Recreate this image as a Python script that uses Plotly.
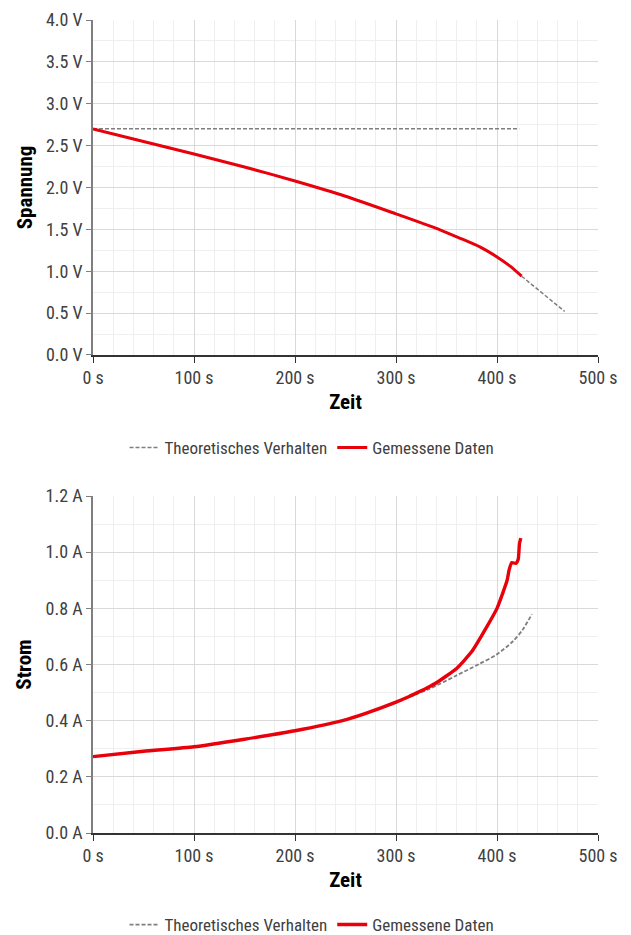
import plotly.graph_objects as go

# ---- data ----
t_volt_meas = [0, 50, 100, 150, 200, 250, 300, 325, 343.6, 363, 383, 400, 413, 424.4]
v_meas = [2.70, 2.55, 2.40, 2.245, 2.077, 1.895, 1.685, 1.578, 1.495, 1.396, 1.29, 1.17, 1.06, 0.94]
t_volt_theo = [0, 422, None, 424.4, 467]
v_theo = [2.70, 2.70, None, 0.94, 0.52]

t_curr_meas = [0, 50, 100, 150, 200, 247, 270, 300, 313, 320, 333, 340, 360, 375, 390, 400, 410, 412, 414.7, 418.6, 421, 422.3, 423.6]
i_meas = [0.272, 0.291, 0.307, 0.334, 0.364, 0.40, 0.426, 0.466, 0.486, 0.498, 0.521, 0.535, 0.586, 0.646, 0.735, 0.80, 0.90, 0.937, 0.963, 0.96, 0.975, 1.032, 1.05]
t_curr_theo = [0, 50, 100, 150, 200, 247, 270, 300, 306.6, 320, 333, 359.4, 382.4, 398.9, 415.3, 425.2, 434.5]
i_theo = [0.272, 0.291, 0.307, 0.334, 0.364, 0.40, 0.426, 0.464, 0.474, 0.494, 0.513, 0.56, 0.602, 0.634, 0.681, 0.723, 0.779]

names = ["Theoretisches Verhalten", "Gemessene Daten"]

FONT = "Liberation Sans Narrow, Roboto Condensed, Arial Narrow, Roboto, sans-serif"
GRAY = "#7f7f7f"
RED = "#e8000b"
TICKSIZE = 18
TITLESIZE = 21
LEGSIZE = 17

W, H = 623, 927  # page body adds an 8px offset

fig = go.Figure()
fig.add_trace(go.Scatter(x=t_volt_theo, y=v_theo, mode="lines", name=names[0],
                         line=dict(color=GRAY, width=1.5, dash="4px,2px"),
                         xaxis="x", yaxis="y", legend="legend"))
fig.add_trace(go.Scatter(x=t_volt_meas, y=v_meas, mode="lines", name=names[1],
                         line=dict(color=RED, width=3, shape="spline", smoothing=0.6),
                         xaxis="x", yaxis="y", legend="legend"))
fig.add_trace(go.Scatter(x=t_curr_theo, y=i_theo, mode="lines", name=names[0],
                         line=dict(color=GRAY, width=1.8, dash="4px,2px", shape="spline", smoothing=0.8),
                         xaxis="x2", yaxis="y2", legend="legend2"))
fig.add_trace(go.Scatter(x=t_curr_meas, y=i_meas, mode="lines", name=names[1],
                         line=dict(color=RED, width=3.4, shape="spline", smoothing=0.5),
                         xaxis="x2", yaxis="y2", legend="legend2"))

xcommon = dict(range=[0, 500], dtick=100, ticksuffix=" s", showgrid=True,
               gridcolor="#d9d9d9", gridwidth=1,
               minor=dict(dtick=20, showgrid=True, gridcolor="#efefef", gridwidth=1),
               showline=True, linecolor="#333333", linewidth=1.5,
               ticks="outside", ticklen=6, tickcolor="#333333",
               zeroline=False, tickfont=dict(size=TICKSIZE, color="#404040"),
               ticklabeloverflow="allow",
               title=dict(text="<b>Zeit</b>", font=dict(size=TITLESIZE, color="#000000"), standoff=7))
ycommon = dict(showgrid=True, gridcolor="#d9d9d9", gridwidth=1,
               showline=True, linecolor="#7f7f7f", linewidth=1.5,
               ticks="outside", ticklen=5, tickcolor="#7f7f7f",
               zeroline=False, tickfont=dict(size=TICKSIZE, color="#404040"),
               ticklabeloverflow="allow",
               tickformat=".1f")

fig.update_layout(
    width=W, height=H,
    margin=dict(l=85, r=33, t=12, b=102, autoexpand=False),
    paper_bgcolor="white", plot_bgcolor="white",
    font=dict(family=FONT, size=16, color="#404040"),
    xaxis=dict(**xcommon, domain=[0, 1], anchor="y"),
    yaxis=dict(**ycommon, domain=[0.588, 1], range=[0, 4], dtick=0.5, ticksuffix=" V",
               minor=dict(dtick=0.25, showgrid=True, gridcolor="#efefef"),
               title=dict(text="<b>Spannung</b>", font=dict(size=TITLESIZE, color="#000000"), standoff=8)),
    xaxis2=dict(**xcommon, domain=[0, 1], anchor="y2"),
    yaxis2=dict(**ycommon, domain=[0, 0.4145], range=[0, 1.2], dtick=0.2, ticksuffix=" A",
                minor=dict(dtick=0.1, showgrid=True, gridcolor="#efefef"),
                title=dict(text="<b>Strom</b>", font=dict(size=TITLESIZE, color="#000000"), standoff=8)),
    legend=dict(orientation="h", xref="container", yref="container", x=304 / W, y=1 - 440 / H,
                xanchor="center", yanchor="middle", font=dict(size=LEGSIZE, color="#404040")),
    legend2=dict(orientation="h", xref="container", yref="container", x=304 / W, y=1 - 917 / H,
                 xanchor="center", yanchor="middle", font=dict(size=LEGSIZE, color="#404040")),
)

fig.write_html("out.html")
